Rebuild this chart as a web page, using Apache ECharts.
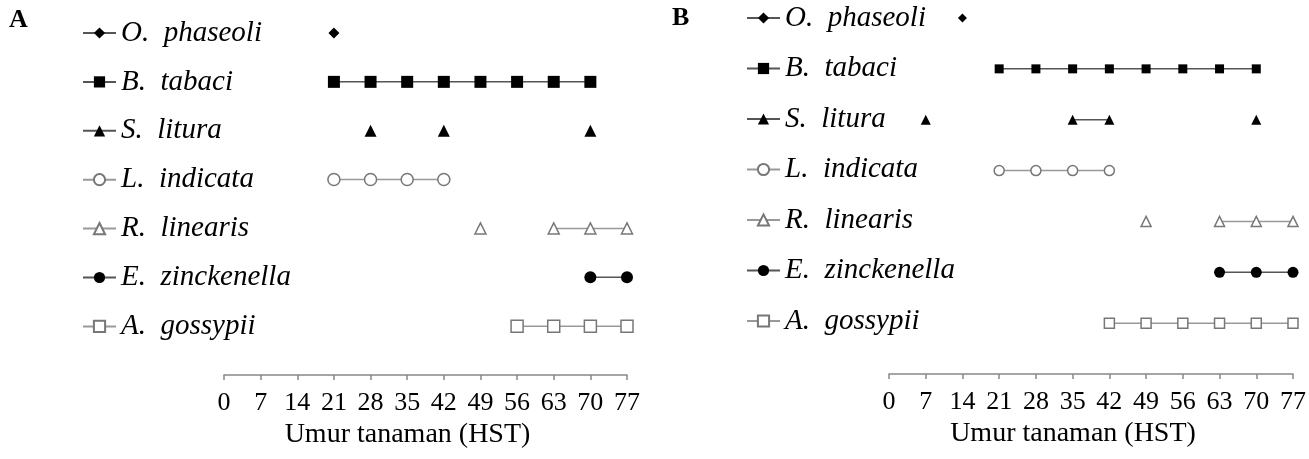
<!DOCTYPE html>
<html>
<head>
<meta charset="utf-8">
<script src="https://cdn.jsdelivr.net/npm/echarts@6/dist/echarts.min.js"></script>
<style>html,body{margin:0;padding:0;background:#fff}#c{width:1309px;height:459px}</style>
</head>
<body>
<div id="c"></div>
<script>
// ---- data ----
const species = ['O. phaseoli', 'B. tabaci', 'S. litura', 'L. indicata', 'R. linearis', 'E. zinckenella', 'A. gossypii'];
const xMin = 0, xMax = 77, xStep = 7;
const axisTitle = 'Umur tanaman (HST)';
const panelLabels = ['A', 'B'];

// each species: list of connected runs of observation days (HST)
const A_phaseoli    = [[21]];
const A_tabaci      = [[21, 28, 35, 42, 49, 56, 63, 70]];
const A_litura      = [[28], [42], [70]];
const A_indicata    = [[21, 28, 35, 42]];
const A_linearis    = [[49], [63, 70, 77]];
const A_zinckenella = [[70, 77]];
const A_gossypii    = [[56, 63, 70, 77]];

const B_phaseoli    = [[14]];
const B_tabaci      = [[21, 28, 35, 42, 49, 56, 63, 70]];
const B_litura      = [[7], [35, 42], [70]];
const B_indicata    = [[21, 28, 35, 42]];
const B_linearis    = [[49], [63, 70, 77]];
const B_zinckenella = [[63, 70, 77]];
const B_gossypii    = [[42, 49, 56, 63, 70, 77]];

const panelA = [A_phaseoli, A_tabaci, A_litura, A_indicata, A_linearis, A_zinckenella, A_gossypii];
const panelB = [B_phaseoli, B_tabaci, B_litura, B_indicata, B_linearis, B_zinckenella, B_gossypii];

// ---- styles ----
const styles = [
  {symbol: 'diamond',  filled: true},
  {symbol: 'rect',     filled: true},
  {symbol: 'triangle', filled: true},
  {symbol: 'circle',   filled: false},
  {symbol: 'triangle', filled: false},
  {symbol: 'circle',   filled: true},
  {symbol: 'rect',     filled: false}
];
const sizesA = [11, 12, 12, 12, 11, 12, 12];
const sizesB = [9, 9, 10, 10, 10, 11, 10];

function buildSeries(panel, idx, sizes) {
  return panel.map(function (runs, i) {
    const row = species.length - i;
    const data = [];
    runs.forEach(function (run, r) {
      if (r > 0) data.push(['-', '-']);
      run.forEach(function (d) { data.push([d, row]); });
    });
    const st = styles[i];
    return {
      type: 'line',
      name: species[i],
      xAxisIndex: idx, yAxisIndex: idx,
      data: data,
      symbol: st.symbol,
      symbolSize: sizes[i],
      showSymbol: true,
      showAllSymbol: true,
      connectNulls: false,
      clip: false,
      animation: false,
      lineStyle: {color: st.filled ? '#555' : '#999', width: 1.5},
      itemStyle: st.filled
        ? {color: '#000', borderColor: '#000', borderWidth: 0}
        : {color: '#fff', borderColor: '#777', borderWidth: 1.5},
      emphasis: {disabled: true}
    };
  });
}

const fontSerif = 'Liberation Serif, Times New Roman, serif';

function xAxisFor(idx) {
  return {
    type: 'value', gridIndex: idx, min: xMin, max: xMax, interval: xStep,
    name: axisTitle, nameLocation: 'middle', nameGap: 43,
    nameTextStyle: {fontFamily: fontSerif, fontSize: 28, color: '#000', padding: [0, 36, 0, 0]},
    axisLine: {show: true, lineStyle: {color: '#888', width: 1.5}},
    axisTick: {show: true, length: 5, lineStyle: {color: '#888', width: 1.5}},
    axisLabel: {fontFamily: fontSerif, fontSize: 26, color: '#000', margin: 15},
    splitLine: {show: false}
  };
}
function yAxisFor(idx) {
  return {type: 'value', gridIndex: idx, min: 0, max: 7, show: false};
}

function legendFor(left, top, gap) {
  return {
    orient: 'vertical', left: left, top: top, padding: 0,
    itemWidth: 33, itemHeight: 14, itemGap: gap,
    selectedMode: false,
    data: species,
    formatter: function (name) { return name.replace('. ', '.  '); },
    textStyle: {fontFamily: fontSerif, fontStyle: 'italic', fontSize: 29, color: '#000', lineHeight: 30}
  };
}

const option = {
  backgroundColor: '#fff',
  animation: false,
  title: [
    {text: panelLabels[0], left: 9, top: 7, padding: 0,
     textStyle: {fontFamily: fontSerif, fontWeight: 'bold', fontSize: 26, color: '#000'}},
    {text: panelLabels[1], left: 672, top: 5, padding: 0,
     textStyle: {fontFamily: fontSerif, fontWeight: 'bold', fontSize: 26, color: '#000'}}
  ],
  legend: [legendFor(82, 18, 18.9), legendFor(746, 3, 20.5)],
  grid: [
    {left: 224, right: 682, top: 33, bottom: 84, containLabel: false},
    {left: 889, right: 11, top: 18, bottom: 85, containLabel: false}
  ],
  xAxis: [xAxisFor(0), xAxisFor(1)],
  yAxis: [yAxisFor(0), yAxisFor(1)],
  series: buildSeries(panelA, 0, sizesA).concat(buildSeries(panelB, 1, sizesB))
};

const chart = echarts.init(document.getElementById('c'), null, {renderer: 'canvas'});
chart.setOption(option);
</script>
</body>
</html>
